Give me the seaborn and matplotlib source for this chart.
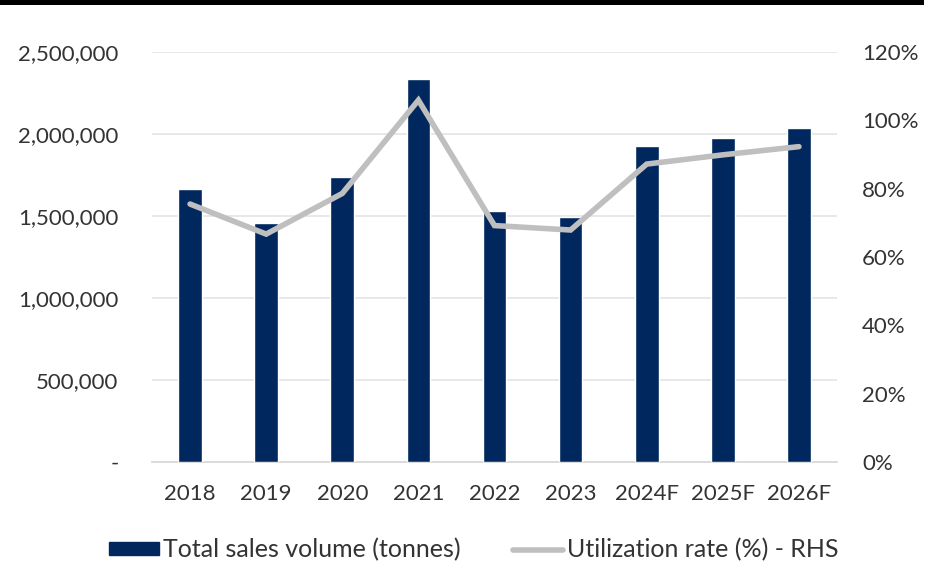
import matplotlib
matplotlib.use("Agg")
import matplotlib.pyplot as plt
from matplotlib.patches import Rectangle, Patch
from matplotlib.lines import Line2D
from matplotlib.ticker import FuncFormatter, MultipleLocator
import numpy as np
import pandas as pd
import seaborn as sns

years = ["2018", "2019", "2020", "2021", "2022", "2023", "2024F", "2025F", "2026F"]
sales_volume = [1665000, 1460000, 1735000, 2335000, 1530000, 1495000, 1925000, 1978000, 2038000]
utilization = [75.5, 66.7, 78.6, 105.9, 69.2, 67.9, 87.2, 89.9, 92.3]

BAR = "#00285E"
LINE = "#BFBFBF"
TXT = "#333333"

sns.set_theme(style="white")
plt.rcParams["font.family"] = ["Lato", "DejaVu Sans"]

df = pd.DataFrame({"year": years, "volume": sales_volume, "util": utilization})

fig = plt.figure(figsize=(9.36, 5.64), dpi=100)
ax = fig.add_axes([152 / 936, 1 - 462 / 564, (837 - 152) / 936, (462 - 52) / 564])

sns.barplot(data=df, x="year", y="volume", color=BAR, saturation=1, width=0.31, ax=ax, zorder=3)
ax.set_xlim(-0.5, len(years) - 0.5)
ax.set_ylim(0, 2500000)
ax.yaxis.set_major_locator(MultipleLocator(500000))
ax.yaxis.set_major_formatter(FuncFormatter(lambda v, p: "-" if v == 0 else f"{v:,.0f}"))
ax.grid(axis="y", color="#E6E6E6", linewidth=1.3, zorder=0)
ax.set_axisbelow(True)
for s in ["top", "right", "left"]:
    ax.spines[s].set_visible(False)
ax.spines["bottom"].set_color("#D9D9D9")
ax.spines["bottom"].set_linewidth(1.3)
ax.set_xlabel("")
ax.set_ylabel("")
ax.tick_params(axis="y", length=0, pad=24, labelsize=16, labelcolor=TXT)
ax.tick_params(axis="x", length=0, pad=16, labelsize=16, labelcolor=TXT)

ax2 = ax.twinx()
sns.lineplot(x=np.arange(len(years)), y=utilization, color=LINE, linewidth=4, ax=ax2,
             solid_joinstyle="miter", zorder=4)
ax2.set_ylim(0, 120)
ax2.yaxis.set_major_locator(MultipleLocator(20))
ax2.yaxis.set_major_formatter(FuncFormatter(lambda v, p: f"{v:.0f}%"))
for s in ["top", "right", "left", "bottom"]:
    ax2.spines[s].set_visible(False)
ax2.tick_params(axis="y", length=0, pad=18, labelsize=16, labelcolor=TXT)
ax2.set_ylabel("")
ax2.grid(False)

handles = [Patch(facecolor=BAR, edgecolor=BAR),
           Line2D([0], [0], color=LINE, linewidth=4)]
labels = ["Total sales volume (tonnes)", "Utilization rate (%) - RHS"]
fig.legend(handles, labels, loc="center", bbox_to_anchor=(474 / 936, 1 - 550 / 564), ncol=2,
           frameon=False, fontsize=18, handlelength=2.0, handleheight=0.44,
           handletextpad=0.15, columnspacing=2.1, labelcolor=TXT)

fig.patches.append(Rectangle((0, 1 - 5 / 564), 924 / 936, 5 / 564, transform=fig.transFigure,
                             facecolor="black", edgecolor="none", zorder=10))

fig.savefig("out.png", dpi=100)
